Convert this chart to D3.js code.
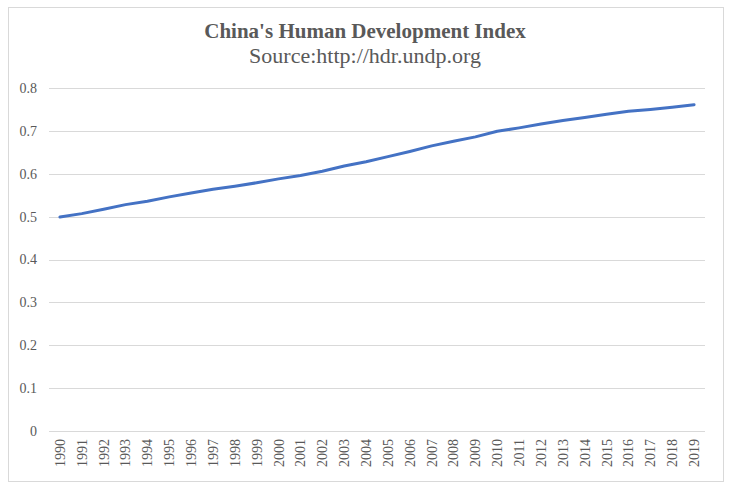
<!DOCTYPE html>
<html><head><meta charset="utf-8">
<script src="https://cdn.jsdelivr.net/npm/d3@7"></script>
<style>body{margin:0;background:#fff}svg{display:block}</style>
</head><body>
<svg id="c" width="732" height="494"></svg>
<script>
const years = ["1990","1991","1992","1993","1994","1995","1996","1997","1998","1999","2000","2001","2002","2003","2004","2005","2006","2007","2008","2009","2010","2011","2012","2013","2014","2015","2016","2017","2018","2019"];
const hdi = [0.499,0.507,0.517,0.528,0.536,0.546,0.555,0.564,0.571,0.579,0.588,0.596,0.606,0.618,0.628,0.640,0.652,0.665,0.676,0.686,0.699,0.707,0.716,0.724,0.731,0.739,0.746,0.750,0.755,0.761];
const yTicks = [0,0.1,0.2,0.3,0.4,0.5,0.6,0.7,0.8];
const title = "China's Human Development Index";
const subtitle = "Source:http://hdr.undp.org";

const svg = d3.select("#c");
const font = "'Liberation Serif','Times New Roman',serif";
svg.append("rect").attr("x",8.5).attr("y",7.5).attr("width",715).attr("height",474)
  .attr("fill","#fff").attr("stroke","#d9d9d9").attr("stroke-width",1);

const m = {l:49, r:705, t:88, b:431};
const x = d3.scaleBand().domain(years).range([m.l,m.r]);
const y = d3.scaleLinear().domain([0,0.8]).range([m.b,m.t]);

svg.append("g").selectAll("line").data(yTicks).join("line")
  .attr("x1",m.l).attr("x2",m.r).attr("y1",d=>Math.round(y(d))+0.5).attr("y2",d=>Math.round(y(d))+0.5)
  .attr("stroke","#d9d9d9").attr("stroke-width",1);

const ya = svg.append("g").attr("transform",`translate(${m.l},0)`)
  .call(d3.axisLeft(y).tickValues(yTicks).tickFormat(d=>d===0?"0":d3.format(".1f")(d)).tickSize(0).tickPadding(12));
ya.select(".domain").remove();
ya.selectAll("text").attr("font-family",font).attr("font-size",14).attr("fill","#595959");

const xa = svg.append("g").attr("transform",`translate(0,${m.b})`)
  .call(d3.axisBottom(x).tickSize(0).tickPadding(0));
xa.select(".domain").remove();
xa.selectAll("text").attr("font-family",font).attr("font-size",14).attr("fill","#595959")
  .attr("transform","rotate(-90)").attr("text-anchor","end").attr("x",-8).attr("y",0).attr("dy","0.35em");

const line = d3.line().x((d,i)=>x(years[i])+x.bandwidth()/2).y(d=>y(d));
svg.append("path").datum(hdi).attr("d",line).attr("fill","none")
  .attr("stroke","#4472c4").attr("stroke-width",3).attr("stroke-linecap","round").attr("stroke-linejoin","round");

svg.append("text").attr("x",365).attr("y",38).attr("text-anchor","middle")
  .attr("font-family",font).attr("font-size",21).attr("font-weight","bold").attr("fill","#595959").text(title);
svg.append("text").attr("x",365).attr("y",63).attr("text-anchor","middle")
  .attr("font-family",font).attr("font-size",22).attr("fill","#595959").text(subtitle);
</script>
</body></html>
